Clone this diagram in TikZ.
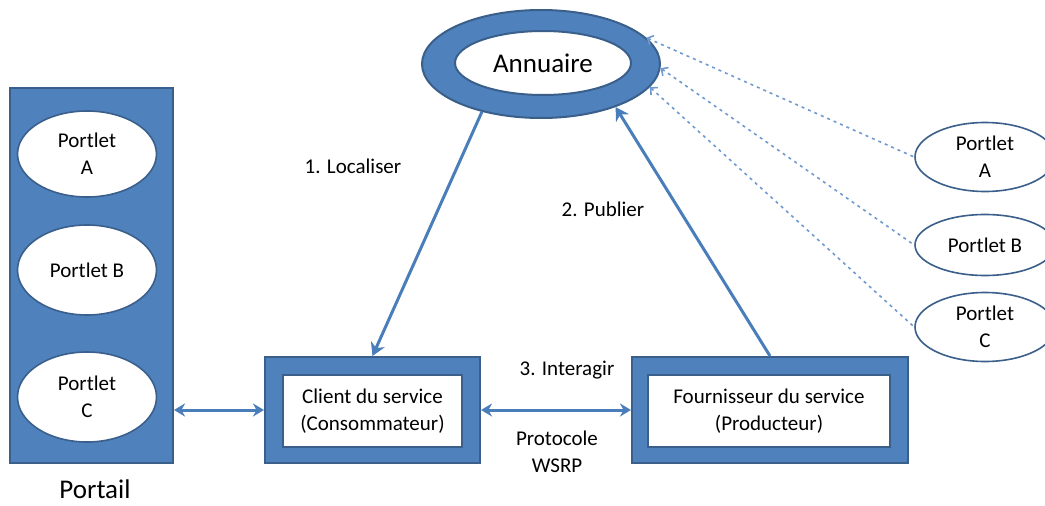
\documentclass[tikz,border=0pt]{standalone}
\usepackage{fontspec}
\setmainfont{Carlito}
\usetikzlibrary{shapes.geometric,arrows.meta}
\definecolor{bfill}{HTML}{4F81BD}
\definecolor{bdraw}{HTML}{3A5F8B}
\definecolor{barrow}{HTML}{4A7EBB}
\definecolor{bdot}{HTML}{6F9AD0}
\tikzset{
  txt/.style={font=\fontsize{21}{27}\selectfont, align=center, inner sep=0pt},
  bluebox/.style={rectangle, fill=bfill, draw=bdraw, line width=2pt, inner sep=0pt},
  whitebox/.style={rectangle, fill=white, draw=bdraw, line width=2pt, inner sep=0pt, txt},
  portlet/.style={ellipse, fill=white, draw=bdraw, line width=1.6pt, inner sep=0pt, txt},
  bigarrow/.style={draw=barrow, line width=3pt, -{Stealth[length=13pt,width=15pt]}},
  dblarrow/.style={draw=barrow, line width=3pt, {Stealth[length=11pt,width=13pt]}-{Stealth[length=11pt,width=13pt]}},
  dotline/.style={draw=bdot, line width=1.6pt, dash pattern=on 3pt off 4pt, {Straight Barb[length=5pt,width=10pt]}-},
}
\begin{document}
\begin{tikzpicture}[x=1pt,y=-1pt]
\useasboundingbox (0,0) rectangle (1045,506);
\clip (0,0) rectangle (1045,506);
% Portail
\node[bluebox, minimum width=163pt, minimum height=375pt] (portail) at (91.5,275.5) {};
\node[portlet, minimum width=139pt, minimum height=86pt] (pa) at (87,154) {Portlet\\A};
\node[portlet, minimum width=139pt, minimum height=90pt] (pb) at (87,270) {Portlet B};
\node[portlet, minimum width=139pt, minimum height=90pt] (pc) at (87,397) {Portlet\\C};
\node[txt, font=\fontsize{27}{30}\selectfont] (portaillbl) at (95,489) {Portail};
% Annuaire
\node[ellipse, fill=bfill, draw=bdraw, line width=2pt, minimum width=238pt, minimum height=108pt, inner sep=0pt] (annout) at (541,64) {};
\node[portlet, line width=2pt, minimum width=176pt, minimum height=64pt, font=\fontsize{27}{30}\selectfont] (annuaire) at (543,63) {Annuaire};
% Client and Fournisseur
\node[bluebox, minimum width=215pt, minimum height=106pt] (clientout) at (372.5,410) {};
\node[whitebox, minimum width=179pt, minimum height=72pt] (client) at (372.5,411) {Client du service\\(Consommateur)};
\node[bluebox, minimum width=276pt, minimum height=106pt] (fourout) at (770,410) {};
\node[whitebox, minimum width=242pt, minimum height=72pt] (four) at (769,411) {Fournisseur du service\\(Producteur)};
% Right portlets
\node[portlet, minimum width=140pt, minimum height=69pt] (ra) at (985,157) {Portlet\\A};
\node[portlet, minimum width=140pt, minimum height=61pt] (rb) at (985,245) {Portlet B};
\node[portlet, minimum width=140pt, minimum height=69pt] (rc) at (985,327) {Portlet\\C};
% Labels
\node[txt] (l1) at (353,166) {1. Localiser};
\node[txt] (l2) at (603,209) {2. Publier};
\node[txt] (l3) at (567,370) {3. Interagir};
\node[txt] (l4) at (557,452) {Protocole\\WSRP};
% Connectors
\draw[bigarrow] (annout.219) -- (clientout.north);
\draw[bigarrow] (fourout.north) -- (annout.-30);
\draw[dblarrow] (portail.east |- clientout.west) -- (clientout.west);
\draw[dblarrow] (clientout.east) -- (fourout.west);
\draw[dotline] (annout.14) -- (ra.west);
\draw[dotline] (annout.-2) -- (rb.west);
\draw[dotline] (annout.-12) -- (rc.west);
\end{tikzpicture}
\end{document}
